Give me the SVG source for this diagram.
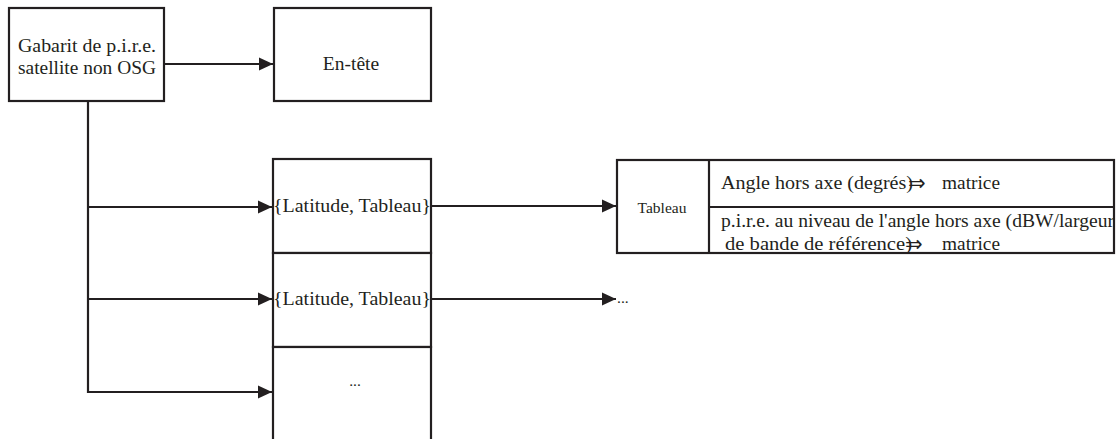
<svg xmlns="http://www.w3.org/2000/svg" width="1118" height="439" viewBox="0 0 1118 439">
  <defs>
    <marker id="arrow" markerUnits="userSpaceOnUse" markerWidth="15" markerHeight="14" refX="14" refY="7" orient="auto">
      <path d="M0,0.5 L14,7 L0,13.5 Z" fill="#231f20"/>
    </marker>
    <style>
      .box { fill: #ffffff; stroke: #231f20; stroke-width: 2.2; }
      .line { fill: none; stroke: #231f20; stroke-width: 2.2; }
      .arr { fill: none; stroke: #231f20; stroke-width: 2.2; marker-end: url(#arrow); }
      .t { font-family: "Liberation Serif", "Times New Roman", serif; font-size: 19.5px; fill: #231f20; }
      .ts { font-family: "Liberation Serif", "Times New Roman", serif; font-size: 15.5px; fill: #231f20; }
      .sym { font-family: "DejaVu Sans", sans-serif; font-size: 21px; fill: #231f20; }
    </style>
  </defs>
  <rect width="1118" height="439" fill="#ffffff"/>

  <!-- root node -->
  <g id="root">
    <rect class="box" x="9" y="8" width="155" height="93"/>
    <text class="t" x="87" y="52" text-anchor="middle" textLength="138" lengthAdjust="spacingAndGlyphs">Gabarit de p.i.r.e.</text>
    <text class="t" x="87" y="74" text-anchor="middle" textLength="138" lengthAdjust="spacingAndGlyphs">satellite non OSG</text>
  </g>

  <!-- header node -->
  <g id="entete">
    <rect class="box" x="274" y="8" width="157" height="93"/>
    <text class="t" x="351" y="70" text-anchor="middle">En-tête</text>
  </g>

  <!-- stacked latitude entries -->
  <g id="entry1">
    <rect class="box" x="273" y="159" width="158" height="94"/>
    <text class="t" x="352" y="212" text-anchor="middle" textLength="158" lengthAdjust="spacingAndGlyphs">{Latitude, Tableau}</text>
  </g>
  <g id="entry2">
    <rect class="box" x="273" y="253" width="158" height="94"/>
    <text class="t" x="352" y="305" text-anchor="middle" textLength="158" lengthAdjust="spacingAndGlyphs">{Latitude, Tableau}</text>
  </g>
  <g id="entry3">
    <rect class="box" x="273" y="347" width="158" height="100"/>
    <text class="ts" x="355" y="386" text-anchor="middle">...</text>
  </g>

  <!-- table node -->
  <g id="tableau">
    <rect class="box" x="617" y="160" width="497" height="93"/>
    <line class="line" x1="709" y1="160" x2="709" y2="253"/>
    <line class="line" x1="709" y1="207" x2="1114" y2="207"/>
    <text class="ts" x="662" y="213" text-anchor="middle">Tableau</text>
    <text class="t" x="721" y="189" textLength="192" lengthAdjust="spacingAndGlyphs">Angle hors axe (degrés)</text>
    <text class="sym" x="908" y="190">⇒</text>
    <text class="t" x="942" y="189" textLength="58" lengthAdjust="spacingAndGlyphs">matrice</text>
    <text class="t" x="721" y="227" textLength="393" lengthAdjust="spacingAndGlyphs">p.i.r.e. au niveau de l'angle hors axe (dBW/largeur</text>
    <text class="t" x="725" y="250" textLength="187" lengthAdjust="spacingAndGlyphs">de bande de référence)</text>
    <text class="sym" x="905" y="251">⇒</text>
    <text class="t" x="942" y="250" textLength="58" lengthAdjust="spacingAndGlyphs">matrice</text>
  </g>

  <!-- continuation marker -->
  <g id="more">
    <text class="ts" x="617" y="303">...</text>
  </g>

  <!-- connectors -->
  <g id="connectors">
    <line class="arr" x1="164" y1="64" x2="273" y2="64"/>
    <line class="line" x1="88" y1="101" x2="88" y2="393"/>
    <line class="arr" x1="87" y1="207" x2="272" y2="207"/>
    <line class="arr" x1="87" y1="299" x2="272" y2="299"/>
    <line class="arr" x1="87" y1="392" x2="272" y2="392"/>
    <line class="arr" x1="431" y1="206" x2="616" y2="206"/>
    <line class="arr" x1="431" y1="299" x2="616" y2="299"/>
  </g>
</svg>
